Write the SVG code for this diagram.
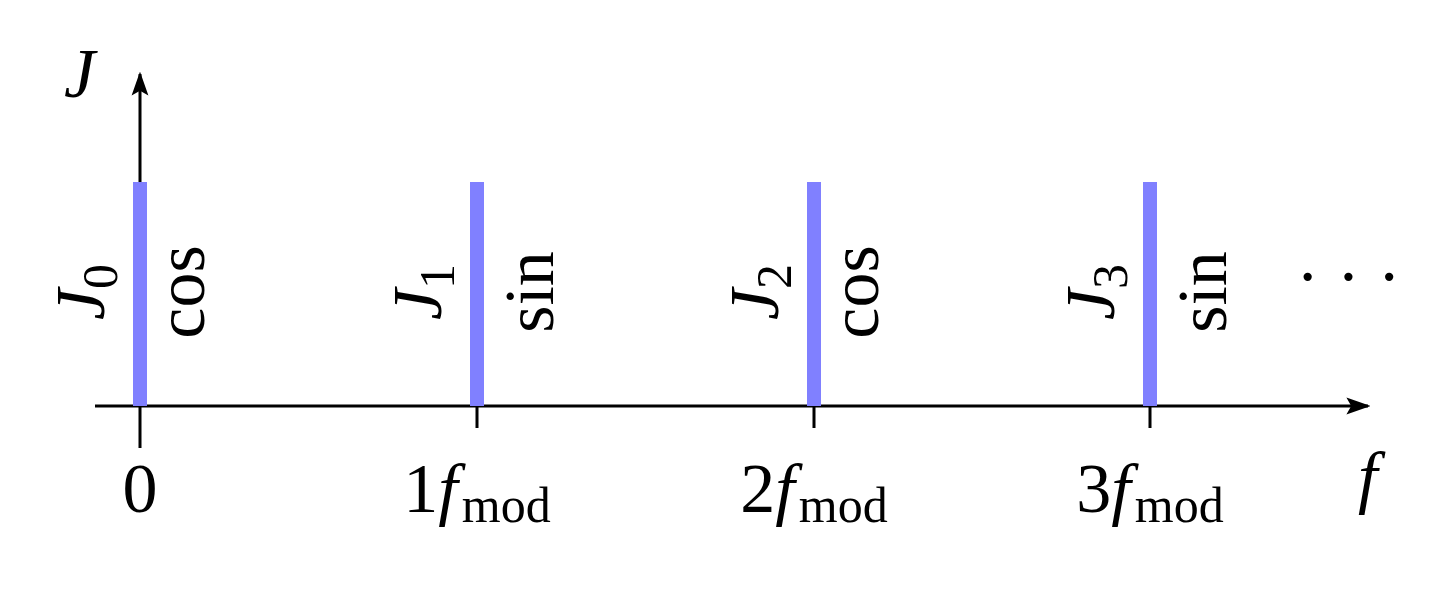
<svg xmlns="http://www.w3.org/2000/svg" width="1438" height="595" viewBox="0 0 1438 595">
<style>
text{font-family:"Liberation Serif","DejaVu Serif",serif;fill:#000;font-size:70px}
.i{font-style:italic}
.bar{fill:#8080ff}
.ax{stroke:#000;stroke-width:3;fill:none}
</style>
<defs>
<marker id="ah" viewBox="0 0 10 10" refX="9" refY="5" markerWidth="24" markerHeight="24" markerUnits="userSpaceOnUse" orient="auto"><path d="M0,1.5 L10,5 L0,8.5 L2,5 z"/></marker></defs>
<rect width="1438" height="595" fill="#fff"/>
<g id="connectors">
<path class="ax" d="M95,406 H1368" marker-end="url(#ah)"/>
<path class="ax" d="M140,406 V74" marker-end="url(#ah)"/>
<path class="ax" d="M140,406 V448 M477,406 V428 M814,406 V428 M1150,406 V428"/>
</g>
<g id="bar0"><rect class="bar" x="133" y="182" width="14" height="224"/>
<text class="i" transform="translate(104,292) rotate(-90)" text-anchor="middle">J<tspan font-size="50" font-style="normal" dy="13">0</tspan></text>
<text transform="translate(204,292) rotate(-90)" text-anchor="middle">cos</text></g>
<g id="bar1"><rect class="bar" x="470" y="182" width="14" height="224"/>
<text class="i" transform="translate(441,292) rotate(-90)" text-anchor="middle">J<tspan font-size="50" font-style="normal" dy="13">1</tspan></text>
<text transform="translate(553,292) rotate(-90)" text-anchor="middle">sin</text></g>
<g id="bar2"><rect class="bar" x="807" y="182" width="14" height="224"/>
<text class="i" transform="translate(778,292) rotate(-90)" text-anchor="middle">J<tspan font-size="50" font-style="normal" dy="13">2</tspan></text>
<text transform="translate(878,292) rotate(-90)" text-anchor="middle">cos</text></g>
<g id="bar3"><rect class="bar" x="1143" y="182" width="14" height="224"/>
<text class="i" transform="translate(1114,292) rotate(-90)" text-anchor="middle">J<tspan font-size="50" font-style="normal" dy="13">3</tspan></text>
<text transform="translate(1226,292) rotate(-90)" text-anchor="middle">sin</text></g>
<g id="labels">
<text class="i" x="64" y="97">J</text>
<text class="i" x="1358" y="500">f</text>
<text x="1296" y="300">· · ·</text>
<text x="140" y="512" text-anchor="middle">0</text>
<text x="477" y="512" text-anchor="middle">1<tspan class="i">f</tspan><tspan font-size="50" dx="4" dy="10">mod</tspan></text>
<text x="814" y="512" text-anchor="middle">2<tspan class="i">f</tspan><tspan font-size="50" dx="4" dy="10">mod</tspan></text>
<text x="1150" y="512" text-anchor="middle">3<tspan class="i">f</tspan><tspan font-size="50" dx="4" dy="10">mod</tspan></text>
</g>
</svg>
